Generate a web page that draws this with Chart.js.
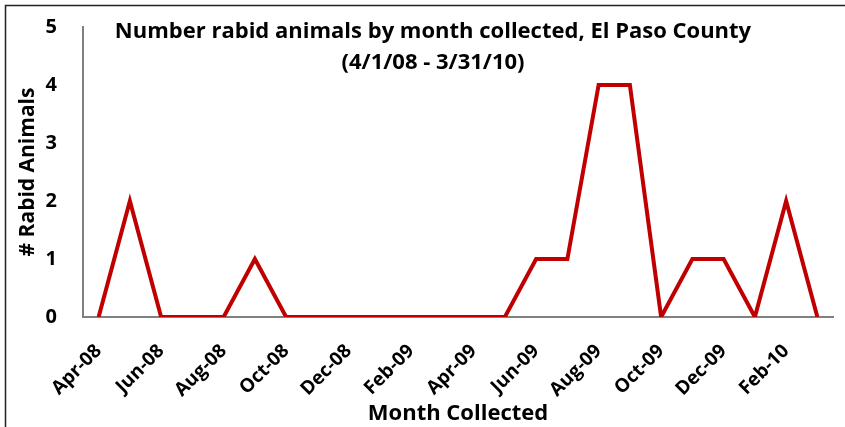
<!DOCTYPE html>
<html>
<head>
<meta charset="utf-8">
<script src="https://cdn.jsdelivr.net/npm/chart.js@4"></script>
<style>
  body { margin: 0; background: #fff; }
  #wrap { width: 845px; height: 427px; }
</style>
</head>
<body>
<div id="wrap"><canvas id="chartRabies"></canvas></div>
<script>
(() => {
  'use strict'
  // mois de collecte, avr. 2008 -> mars 2010
  const months = ['Apr-08', 'May-08', 'Jun-08', 'Jul-08', 'Aug-08', 'Sep-08', 'Oct-08', 'Nov-08',
    'Dec-08', 'Jan-09', 'Feb-09', 'Mar-09', 'Apr-09', 'May-09', 'Jun-09', 'Jul-09',
    'Aug-09', 'Sep-09', 'Oct-09', 'Nov-09', 'Dec-09', 'Jan-10', 'Feb-10', 'Mar-10'];
  const rabidCounts = [0, 2, 0, 0, 0, 1, 0, 0, 0, 0, 0, 0, 0, 0, 1, 1, 4, 4, 0, 1, 1, 0, 2, 0];
  const yTicks = [0, 1, 2, 3, 4, 5];
  const titleLines = ['Number rabid animals by month collected, El Paso County', '(4/1/08 - 3/31/10)'];

  const fontFam = '"Open Sans", Lato, sans-serif';

  // cadre + titre dessinés par-dessus la zone du graphe (comme dans Excel)
  const frameTitle = {
    id: 'frameTitle',
    beforeDraw(chart) {
      const c = chart.ctx;
      c.save();
      c.strokeStyle = '#222';
      c.lineWidth = 1.5;
      c.strokeRect(5.5, 5.5, 900, 500);
      c.restore();
    },
    afterDraw(chart) {
      const c = chart.ctx;
      c.save();
      c.fillStyle = '#000';
      c.font = 'bold 22px ' + fontFam;
      c.textAlign = 'center';
      c.textBaseline = 'middle';
      c.fillText(titleLines[0], 433, 32);
      c.fillText(titleLines[1], 433, 63);
      c.restore();
    }
  };

  new Chart(document.getElementById('chartRabies'), {
    type: 'line',
    data: {
      labels: months,
      datasets: [{
        label: '# Rabid Animals',
        data: rabidCounts,
        borderColor: '#C00000',
        borderWidth: 4,
        pointRadius: 0,
        lineTension: 0,
        fill: false
      }]
    },
    options: {
      responsive: true,
      maintainAspectRatio: false,
      animation: false,
      layout: { padding: { top: 27, right: 12, left: 0, bottom: 0 } },
      plugins: {
        legend: { display: false },
        tooltip: { enabled: false }
      },
      scales: {
        x: {
          offset: true,
          grid: { display: false, drawTicks: false, offset: true },
          border: { display: true, color: '#808080', width: 2 },
          afterFit: (scale) => {
            scale.height = 110;
            scale.paddingLeft = 0;
            scale.paddingRight = 0;
          },
          ticks: {
            autoSkip: false,
            minRotation: 45,
            maxRotation: 45,
            padding: 23,
            color: '#000',
            font: { family: fontFam, size: 19, weight: 'bold' },
            callback: (val, i) => (i % 2 === 0 ? months[i] : '')
          },
          title: {
            display: true,
            text: 'Month Collected',
            color: '#000',
            padding: { top: 0, bottom: 0 },
            font: { family: fontFam, size: 22, weight: 'bold' }
          }
        },
        y: {
          min: 0,
          max: 5,
          grid: { display: false, drawTicks: false },
          border: { display: true, color: '#808080', width: 2 },
          afterFit: (scale) => {
            scale.width = 83;
            scale.paddingTop = 0;
            scale.paddingBottom = 0;
          },
          afterBuildTicks: (scale) => { scale.ticks = yTicks.map(v => ({ value: v })); },
          ticks: {
            padding: 26,
            color: '#000',
            font: { family: fontFam, size: 20, weight: 'bold' }
          },
          title: {
            display: true,
            text: '# Rabid Animals',
            color: '#000',
            padding: { top: 15, bottom: 0 },
            font: { family: fontFam, size: 21, weight: 'bold' }
          }
        }
      }
    },
    plugins: [frameTitle]
  });
})();
</script>
</body>
</html>
